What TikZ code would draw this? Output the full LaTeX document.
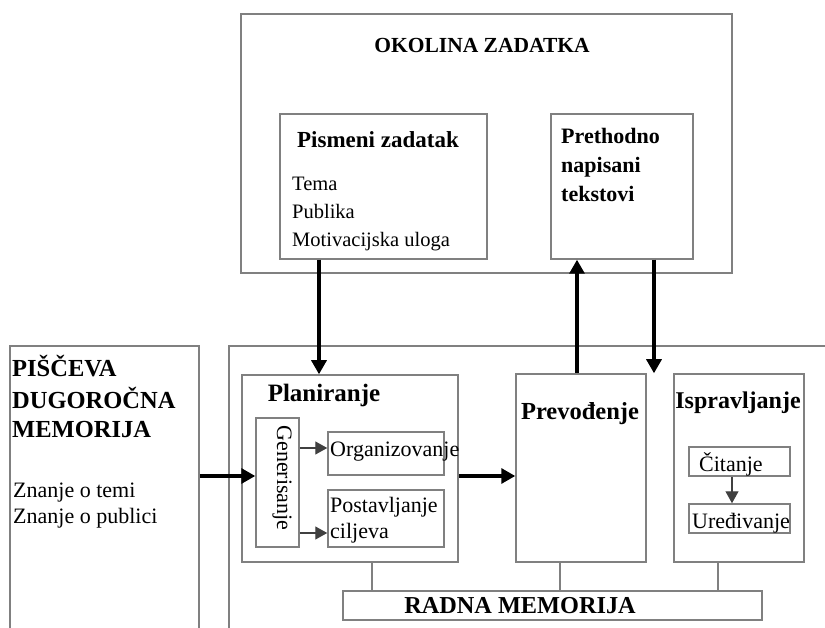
\documentclass[tikz,border=0pt]{standalone}
\usepackage{fontspec}
\setmainfont{Liberation Serif}
\usepackage{tikz}
\usetikzlibrary{arrows.meta}
\definecolor{boxline}{gray}{0.5}
\newcommand{\fsz}[1]{\fontsize{#1}{#1}\selectfont}

\begin{document}
\begin{tikzpicture}[x=1pt,y=-1pt,
	box/.style={draw=boxline,line width=1.5pt,inner sep=0pt},
	ttl/.style={inner sep=0pt,font=\bfseries\fsz{#1}},
	txt/.style={inner sep=0pt,font=\fsz{#1}},
	thk/.style={line width=3.2pt,-{Triangle[length=14pt,width=15pt]}},
	thn/.style={draw=black!75,line width=1.3pt,-{Triangle[length=12pt,width=13pt]}},
	conn/.style={draw=boxline,line width=1.4pt}]
	\useasboundingbox (0,0) rectangle (825,628);
	\clip (0,0) rectangle (825,628);

	\node[box,minimum width=491pt,minimum height=259pt] (okol) at (486.5,143.5) {};
	\node[box,minimum width=207pt,minimum height=145pt] (pism) at (383.5,186.5) {};
	\node[box,minimum width=142pt,minimum height=145pt] (preth) at (622,186.5) {};
	\node[ttl=21.5,anchor=base] (okoltxt) at (482,53) {OKOLINA ZADATKA};
	\node[ttl=23,anchor=base] (pismtxt) at (378,148) {Pismeni zadatak};
	\node[txt=20.5,anchor=base west] (tema) at (292,191) {Tema};
	\node[txt=20.5,anchor=base west] (publ) at (292,219) {Publika};
	\node[txt=20.5,anchor=base west] (motiv) at (292,247) {Motivacijska uloga};
	\node[ttl=22,anchor=base west] (preth1) at (561,144) {Prethodno};
	\node[ttl=22,anchor=base west] (preth2) at (561,173) {napisani};
	\node[ttl=22,anchor=base west] (preth3) at (561,202) {tekstovi};

	\node[box,minimum width=189pt,minimum height=354pt] (pisc) at (104.5,523) {};
	\node[ttl=24.5,anchor=base west] (pisc1) at (12,377) {PIŠČEVA};
	\node[ttl=24.5,anchor=base west] (pisc2) at (12,408) {DUGOROČNA};
	\node[ttl=24.5,anchor=base west] (pisc3) at (12,437) {MEMORIJA};
	\node[txt=22,anchor=base west] (znan1) at (13,497) {Znanje o temi};
	\node[txt=22,anchor=base west] (znan2) at (13,523) {Znanje o publici};

	\node[box,minimum width=671pt,minimum height=354pt] (rout) at (564.5,523) {};
	\node[box,minimum width=216pt,minimum height=187pt] (plan) at (350,468.5) {};
	\node[box,minimum width=43pt,minimum height=129pt] (gen) at (277.5,482.5) {};
	\node[box,minimum width=116pt,minimum height=43pt] (org) at (386,453.5) {};
	\node[box,minimum width=116pt,minimum height=57pt] (post) at (386,518.5) {};
	\node[box,minimum width=130pt,minimum height=188pt] (prev) at (581,468) {};
	\node[box,minimum width=130pt,minimum height=188pt] (ispr) at (739,468) {};
	\node[box,minimum width=101pt,minimum height=29pt] (cit) at (739.5,461.5) {};
	\node[box,minimum width=101pt,minimum height=29pt] (ured) at (739.5,518.5) {};
	\node[box,minimum width=419pt,minimum height=29pt] (radna) at (552.5,605.5) {};

	\node[ttl=25,anchor=base] (plantxt) at (324,401) {Planiranje};
	\node[txt=22,rotate=-90] (gentxt) at (282,478) {Generisanje};
	\node[txt=22,anchor=base west] (orgtxt) at (330,456) {Organizovanje};
	\node[txt=22,anchor=base west] (post1) at (330,512) {Postavljanje};
	\node[txt=22,anchor=base west] (post2) at (330,538) {ciljeva};
	\node[ttl=24.5,anchor=base] (prevtxt) at (580,419) {Prevođenje};
	\node[ttl=24,anchor=base] (isprtxt) at (738,409) {Ispravljanje};
	\node[txt=22,anchor=base west] (cittxt) at (699,471) {Čitanje};
	\node[txt=22,anchor=base west] (uredtxt) at (692,528) {Uređivanje};
	\node[ttl=24.3,anchor=base] (radnatxt) at (520,613) {RADNA MEMORIJA};

	\coordinate (c1) at (319,0);
	\coordinate (c2) at (577,0);
	\coordinate (c3) at (654,0);
	\coordinate (c4) at (0,476);
	\coordinate (c5) at (0,448);
	\coordinate (c6) at (0,533);
	\coordinate (c7) at (732,0);
	\coordinate (c8) at (372,0);
	\coordinate (c9) at (560,0);
	\coordinate (c10) at (718,0);

	\draw[thk] (pism.south -| c1) -- (plan.north -| c1);
	\draw[thk] (prev.north -| c2) -- (preth.south -| c2);
	\draw[thk] (preth.south -| c3) -- (ispr.north -| c3);
	\draw[thk] (pisc.east |- c4) -- (gen.west |- c4);
	\draw[thk] (plan.east |- c4) -- (prev.west |- c4);
	\draw[thn] (gen.east |- c5) -- (org.west |- c5);
	\draw[thn] (gen.east |- c6) -- (post.west |- c6);
	\draw[thn] (cit.south -| c7) -- (ured.north -| c7);
	\draw[conn] (plan.south -| c8) -- (radna.north -| c8);
	\draw[conn] (prev.south -| c9) -- (radna.north -| c9);
	\draw[conn] (ispr.south -| c10) -- (radna.north -| c10);
\end{tikzpicture}
\end{document}
